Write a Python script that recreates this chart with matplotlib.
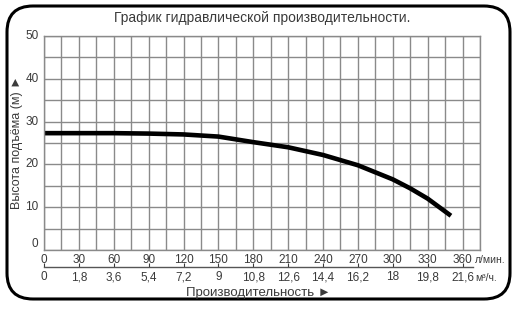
import matplotlib
matplotlib.use("Agg")
import matplotlib.pyplot as plt
from matplotlib.patches import FancyBboxPatch
import numpy as np

# Data
flow_lpm = [0, 30, 60, 90, 120, 150, 180, 210, 240, 270, 300, 315, 330, 350]
head_m = [27.3, 27.3, 27.3, 27.2, 27.0, 26.5, 25.2, 24.0, 22.2, 19.8, 16.5, 14.4, 12.0, 8.0]
x_ticks_lpm = [0, 30, 60, 90, 120, 150, 180, 210, 240, 270, 300, 330, 360]
x_ticks_m3h = ["0", "1,8", "3,6", "5,4", "7,2", "9", "10,8", "12,6", "14,4", "16,2", "18", "19,8", "21,6"]
y_ticks = [0, 10, 20, 30, 40, 50]

title = "График гидравлической производительности."
xlabel = "Производительность ►"
ylabel = "Высота подъёма (м) ►"

plt.rcParams['font.family'] = ['Liberation Sans', 'DejaVu Sans']
txt = '#3a3a3a'
gridc = '#8a8a8a'

W, H = 522, 321
fig = plt.figure(figsize=(W / 100, H / 100), dpi=100)

# background axes in pixel units for the rounded border
bg = fig.add_axes([0, 0, 1, 1], zorder=-1)
bg.set_xlim(0, W)
bg.set_ylim(H, 0)
bg.axis('off')
bg.add_patch(FancyBboxPatch((7, 6), 503, 293,
                            boxstyle="round,pad=0,rounding_size=26",
                            fill=False, ec='black', lw=2.2))

ax = fig.add_axes([44 / W, 1 - 250 / H, 436 / W, 214 / H])
ax.set_xlim(0, 375)
ax.set_ylim(0, 50)
ax.set_xticks(np.arange(0, 376, 15), minor=True)
ax.set_yticks(np.arange(0, 51, 5), minor=True)
ax.grid(which='both', color=gridc, lw=1.0)
ax.set_axisbelow(True)
for s in ax.spines.values():
    s.set_color(gridc)
    s.set_linewidth(1.0)

ax.plot(flow_lpm, head_m, color='black', lw=3.3, solid_capstyle='butt')

ax.set_xticks(x_ticks_lpm)
ax.set_xticklabels([str(v) for v in x_ticks_lpm])
ax.set_yticks(y_ticks)
ax.tick_params(axis='both', which='both', length=0, labelsize=8.5, colors=txt)
ax.tick_params(axis='x', pad=3)
ax.tick_params(axis='y', pad=4)
for lbl in ax.get_yticklabels():
    lbl.set_verticalalignment('bottom' if lbl.get_text() == '0' else 'center')

sec = ax.secondary_xaxis(-0.08)
sec.set_xticks(x_ticks_lpm)
sec.set_xticklabels(x_ticks_m3h)
sec.tick_params(direction='in', length=3, width=0.8, colors=txt, labelsize=8.5, pad=3)
sec.spines['bottom'].set_color('#555555')
sec.spines['bottom'].set_linewidth(1.0)
sec.spines['bottom'].set_bounds(0, 369)

ax.text(371, -0.045, "л/мин.", transform=ax.get_xaxis_transform(), fontsize=7.5,
        color=txt, va='center', ha='left')
ax.text(371, -0.13, "м³/ч.", transform=ax.get_xaxis_transform(), fontsize=7.5,
        color=txt, va='center', ha='left')

fig.text(262 / W, 1 - 18 / H, title, ha='center', va='center', fontsize=10, color=txt)
fig.text(258 / W, 1 - 293 / H, xlabel, ha='center', va='center', fontsize=9.5, color=txt)
fig.text(17 / W, 1 - 142 / H, ylabel, ha='center', va='center', rotation=90, fontsize=9, color=txt)

fig.savefig("out.png", dpi=100, facecolor='white')
